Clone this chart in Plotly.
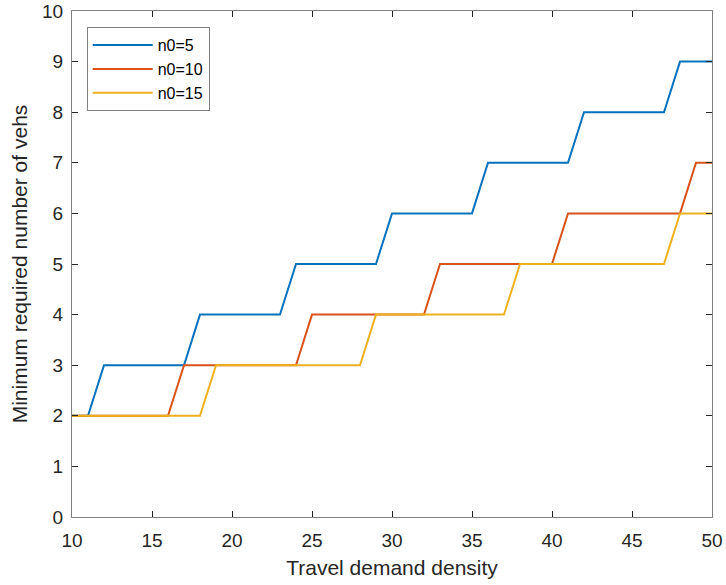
import plotly.graph_objects as go

x = list(range(10, 51))
n0_5 = [2, 2] + [3]*6 + [4]*6 + [5]*6 + [6]*6 + [7]*6 + [8]*6 + [9]*3
n0_10 = [2]*7 + [3]*8 + [4]*8 + [5]*8 + [6]*8 + [7]*2
n0_15 = [2]*9 + [3]*10 + [4]*9 + [5]*10 + [6]*3

series = [("n0=5", n0_5, "#0072BD"), ("n0=10", n0_10, "#D95319"), ("n0=15", n0_15, "#EDB120")]

fig = go.Figure()
for name, ys, col in series:
    fig.add_trace(go.Scatter(x=x, y=ys, mode="lines", name=name,
                             line=dict(color=col, width=2)))

axis_common = dict(showline=True, linecolor="#808080", linewidth=1, mirror="ticks",
                   ticks="inside", ticklen=6, tickcolor="#262626", tickwidth=1,
                   showgrid=False, zeroline=False, automargin=False,
                   ticklabeloverflow="allow",
                   tickfont=dict(size=19, color="#262626"))
fig.update_xaxes(range=[10, 50], dtick=5, ticklabelstandoff=6,
                 title=dict(text="Travel demand density",
                            font=dict(size=21, color="#262626"), standoff=10), **axis_common)
fig.update_yaxes(range=[0, 10], dtick=1, ticklabelstandoff=4,
                 title=dict(text="Minimum required number of vehs",
                            font=dict(size=21, color="#262626"), standoff=8), **axis_common)

fig.update_layout(
    width=726, height=585,
    margin=dict(l=72, r=14, t=11, b=68),
    plot_bgcolor="white", paper_bgcolor="white",
    font=dict(family="Liberation Sans, Arial, sans-serif", color="#262626"),
    legend=dict(x=0.023, y=0.968, xanchor="left", yanchor="top",
                bordercolor="#808080", borderwidth=1, bgcolor="white",
                itemwidth=60,
                font=dict(size=16, color="#000000"), tracegroupgap=0),
    showlegend=True,
)

fig.write_html("out.html", config={"displayModeBar": False},
               post_script="document.body.style.margin='0px';document.body.style.overflow='hidden';")
